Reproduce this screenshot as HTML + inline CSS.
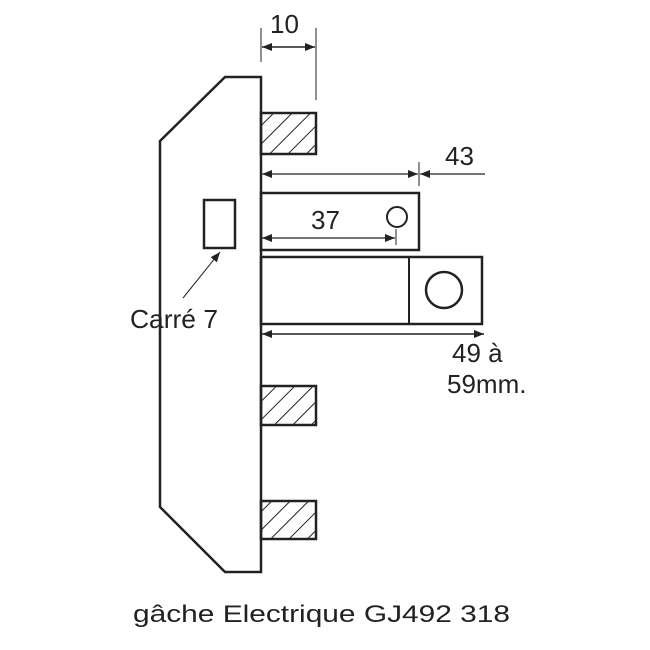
<!DOCTYPE html>
<html><head><meta charset="utf-8"><style>body{margin:0;background:#fff}svg{display:block}</style></head>
<body>
<svg width="650" height="650" viewBox="0 0 650 650" xmlns="http://www.w3.org/2000/svg" font-family="Liberation Sans, DejaVu Sans, sans-serif" fill="none" stroke="#222">
<defs>
<pattern id="h" patternUnits="userSpaceOnUse" width="13" height="13" patternTransform="rotate(45)">
<line x1="0" y1="0" x2="0" y2="13" stroke="#222" stroke-width="2"/>
</pattern>
<marker id="a" markerWidth="10" markerHeight="8" refX="10" refY="4" orient="auto" markerUnits="userSpaceOnUse"><path d="M0,0 L10,4 L0,8 Z" fill="#222" stroke="none"/></marker>
</defs>
<path d="M160,507 L160,141 L225,77 L261,77 L261,572 L225,572 Z" stroke-width="2.5"/>
<rect x="261" y="113" width="55" height="41" fill="url(#h)" stroke-width="2.5"/>
<rect x="261" y="386" width="55" height="39" fill="url(#h)" stroke-width="2.5"/>
<rect x="261" y="501" width="55" height="38" fill="url(#h)" stroke-width="2.5"/>
<rect x="261" y="193" width="158" height="57" stroke-width="2.5"/>
<circle cx="397" cy="217" r="10" stroke-width="2"/>
<rect x="261" y="257" width="221" height="67" stroke-width="2.5"/>
<line x1="409" y1="257" x2="409" y2="324" stroke-width="2"/>
<circle cx="444" cy="290" r="18" stroke-width="2.5"/>
<rect x="204" y="200" width="31" height="48" stroke-width="2.5"/>
<line x1="183" y1="298" x2="220" y2="252" stroke-width="1" marker-end="url(#a)"/>
<line x1="261" y1="28" x2="261" y2="62" stroke-width="1"/>
<line x1="316" y1="28" x2="316" y2="100" stroke-width="1"/>
<line x1="288" y1="47" x2="262" y2="47" stroke-width="1.5" marker-end="url(#a)"/>
<line x1="288" y1="47" x2="315" y2="47" stroke-width="1.5" marker-end="url(#a)"/>
<line x1="340" y1="174" x2="262" y2="174" stroke-width="1.2" marker-end="url(#a)"/>
<line x1="340" y1="174" x2="418" y2="174" stroke-width="1.2" marker-end="url(#a)"/>
<line x1="419" y1="162" x2="419" y2="186" stroke-width="1"/>
<line x1="485" y1="174" x2="420" y2="174" stroke-width="1.2" marker-end="url(#a)"/>
<line x1="330" y1="238" x2="262" y2="238" stroke-width="1.2" marker-end="url(#a)"/>
<line x1="330" y1="238" x2="395" y2="238" stroke-width="1.2" marker-end="url(#a)"/>
<line x1="396" y1="229" x2="396" y2="245" stroke-width="1"/>
<line x1="370" y1="334" x2="262" y2="334" stroke-width="1.5" marker-end="url(#a)"/>
<line x1="370" y1="334" x2="484" y2="334" stroke-width="1.5" marker-end="url(#a)"/>
<g fill="#222" stroke="none" font-size="26">
<text x="270" y="33">10</text>
<text x="445" y="165">43</text>
<text x="311" y="229">37</text>
<text x="452" y="362">49 à</text>
<text x="447" y="393">59mm.</text>
<text x="130" y="328" textLength="88" lengthAdjust="spacingAndGlyphs">Carré 7</text>
<text x="133" y="622" font-size="24" textLength="377" lengthAdjust="spacingAndGlyphs">gâche Electrique  GJ492 318</text>
</g>
</svg>
</body></html>
